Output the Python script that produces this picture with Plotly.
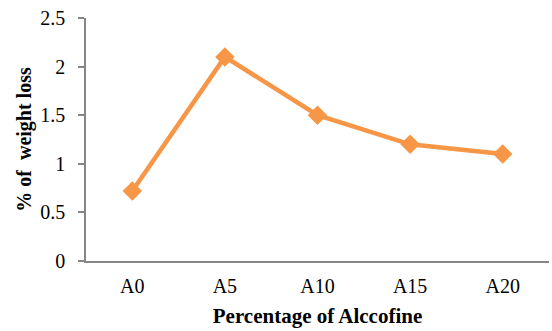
import plotly.graph_objects as go

# Weight loss by alccofine replacement level
categories = ["A0", "A5", "A10", "A15", "A20"]
weight_loss = [0.72, 2.1, 1.5, 1.2, 1.1]
y_ticks = [0, 0.5, 1, 1.5, 2, 2.5]
y_tick_labels = ["0", "0.5", "1", "1.5", "2", "2.5"]

orange = "#F79646"
axis_grey = "#868686"
serif = "Liberation Serif, Times New Roman, serif"

fig = go.Figure(
    go.Scatter(
        x=categories,
        y=weight_loss,
        mode="lines+markers",
        line=dict(color=orange, width=4.5),
        marker=dict(symbol="diamond", size=15, color=orange),
        cliponaxis=False,
    )
)

fig.update_layout(
    width=552,
    height=331,
    margin=dict(l=86, r=3, t=18, b=70),
    paper_bgcolor="white",
    plot_bgcolor="white",
    showlegend=False,
    font=dict(family=serif, size=20, color="black"),
)

fig.update_xaxes(
    type="category",
    range=[-0.5, 4.5],
    showgrid=False,
    showline=True,
    linecolor=axis_grey,
    linewidth=1.5,
    ticks="",
    ticklabelstandoff=6,
    tickfont=dict(family=serif, size=20, color="black"),
    title=dict(
        text="<b>Percentage of Alccofine</b>",
        font=dict(family=serif, size=21, color="black"),
        standoff=13,
    ),
)

fig.update_yaxes(
    range=[0, 2.5],
    tickvals=y_ticks,
    ticktext=y_tick_labels,
    showgrid=False,
    zeroline=False,
    showline=True,
    linecolor=axis_grey,
    linewidth=1.5,
    ticks="outside",
    ticklen=6,
    tickcolor=axis_grey,
    tickwidth=1.5,
    ticklabelstandoff=9,
    tickfont=dict(family=serif, size=20, color="black"),
    title=dict(
        text="<b>% of\u00a0 weight loss</b>",
        font=dict(family=serif, size=20, color="black"),
        standoff=3,
    ),
)

fig.write_html("out.html")
